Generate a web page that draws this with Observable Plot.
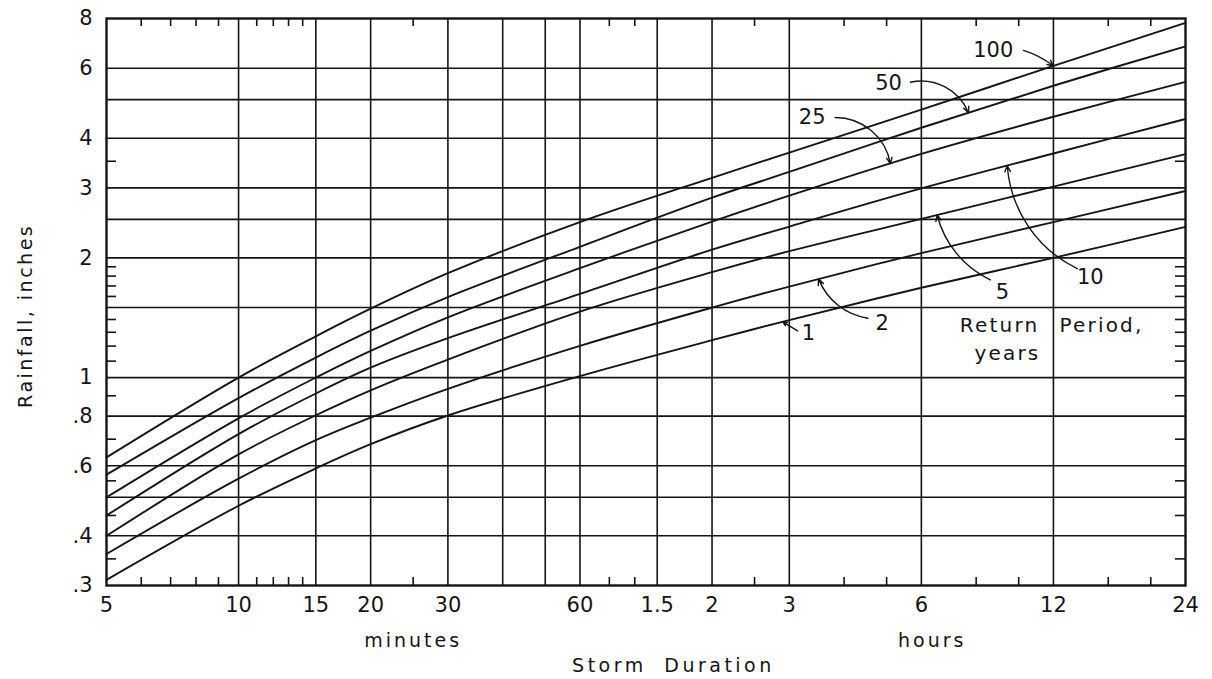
<!DOCTYPE html>
<html>
<head>
<meta charset="utf-8">
<script src="https://cdn.jsdelivr.net/npm/d3@7"></script>
<script src="https://cdn.jsdelivr.net/npm/@observablehq/plot@0.6"></script>
<style>
  html, body { margin: 0; padding: 0; background: #fff; }
  #chart svg { display: block; }
</style>
</head>
<body>
<div id="chart"></div>
<script>
// ---- Data: storm duration (minutes) and rainfall depth (inches) per return period ----
const durations = [5, 10, 15, 20, 30, 60, 120, 180, 360, 720, 1440];
const rain100 = [0.63, 1.00, 1.27, 1.49, 1.83, 2.46, 3.18, 3.68, 4.72, 6.08, 7.80];
const rain50  = [0.57, 0.888, 1.123, 1.312, 1.594, 2.133, 2.834, 3.29, 4.25, 5.42, 6.81];
const rain25  = [0.50, 0.79, 1.00, 1.167, 1.418, 1.884, 2.468, 2.868, 3.654, 4.53, 5.54];
const rain10  = [0.45, 0.721, 0.912, 1.059, 1.256, 1.623, 2.097, 2.397, 2.99, 3.66, 4.47];
const rain5   = [0.40, 0.641, 0.804, 0.929, 1.11, 1.465, 1.841, 2.079, 2.507, 3.023, 3.646];
const rain2   = [0.36, 0.557, 0.696, 0.793, 0.937, 1.202, 1.50, 1.694, 2.056, 2.461, 2.946];
const rain1   = [0.31, 0.476, 0.591, 0.68, 0.803, 1.009, 1.242, 1.395, 1.682, 2.00, 2.394];
const returnPeriods = [100, 50, 25, 10, 5, 2, 1];
const seriesValues = [rain100, rain50, rain25, rain10, rain5, rain2, rain1];

// ---- Axis ticks and grid ----
const xTickValues = [5, 10, 15, 20, 30, 60, 90, 120, 180, 360, 720, 1440];
const xTickLabels = ["5", "10", "15", "20", "30", "60", "1.5", "2", "3", "6", "12", "24"];
const xGridValues = [10, 15, 20, 30, 40, 50, 60, 90, 120, 180, 360, 720];
const xMinorValues = [6, 7, 8, 9, 11, 12, 13, 14, 25, 70, 80, 150, 240, 300, 480, 600, 960, 1200];
const yTickValues = [0.3, 0.4, 0.6, 0.8, 1, 2, 3, 4, 6, 8];
const yTickLabels = [".3", ".4", ".6", ".8", "1", "2", "3", "4", "6", "8"];
const yGridValues = [0.4, 0.5, 0.6, 0.8, 1, 1.5, 2, 2.5, 3, 4, 5, 6];
const yMinorValues = [0.35, 0.45, 0.55, 0.7, 0.9, 1.1, 1.2, 1.3, 1.4, 1.6, 1.7, 1.8, 1.9, 3.5];

// ---- Curve labels (data-space anchors) ----
const curveLabelText = ["100", "50", "25", "10", "5", "2", "1"];
const curveLabelX = [525, 303, 203, 874, 551, 293, 199];
const curveLabelY = [6.65, 5.5, 4.51, 1.79, 1.64, 1.37, 1.29];
const leaderStartX = [615, 340, 229, 816, 517, 272, 188];
const leaderStartY = [6.65, 5.53, 4.51, 1.88, 1.76, 1.41, 1.31];
const leaderTipX = [720, 461, 306, 565, 391, 210, 174];

// ---- Text labels ----
const xUnitText = ["minutes", "hours"];
const xUnitAt = [25, 381];
const xTitleText = "Storm Duration";
const xTitleAt = 98;
const yTitleText = "Rainfall, inches";
const yTitleAt = 1.43;
const legendWords = ["Return", "Period,", "years"];
const legendAt = 720;
const legendY = [1.35, 1.35, 1.15];

// ---- Build tables ----
const rows = returnPeriods.flatMap((rp, i) =>
  durations.map((d, j) => ({rp, duration: d, rain: seriesValues[i][j]})));

function rainAt(values, m) {
  for (let i = 0; i < durations.length - 1; i++) {
    if (m >= durations[i] && m <= durations[i + 1]) {
      const t = Math.log(m / durations[i]) / Math.log(durations[i + 1] / durations[i]);
      return Math.exp(Math.log(values[i]) + t * (Math.log(values[i + 1]) - Math.log(values[i])));
    }
  }
  return values[values.length - 1];
}

const leaders = returnPeriods.map((rp, i) => ({
  label: curveLabelText[i],
  lx: curveLabelX[i], ly: curveLabelY[i],
  x1: leaderStartX[i], y1: leaderStartY[i],
  x2: leaderTipX[i], y2: rainAt(seriesValues[i], leaderTipX[i])
}));

const bendStyle = {"100": 10, "50": 40, "25": 40, "10": 30, "5": 25, "2": 30, "1": 0};
const xIdx = xTickValues.map((_, i) => i);
const yIdx = yTickValues.map((_, i) => i);

const W = 1212, H = 679, mL = 106, mR = 27, mT = 18, mB = 94;
const frameW = W - mL - mR, frameH = H - mT - mB;
const ink = "#151515";
const font = "DejaVu Sans";

const chart = Plot.plot({
  width: W, height: H,
  marginLeft: mL, marginRight: mR, marginTop: mT, marginBottom: mB,
  x: {type: "log", domain: [5, 1440], axis: null},
  y: {type: "log", domain: [0.3, 8], axis: null},
  style: {fontFamily: font, fontSize: "20px", background: "#fff", color: ink},
  marks: [
    Plot.ruleX(xGridValues, {stroke: ink, strokeWidth: 1.6}),
    Plot.ruleY(yGridValues, {stroke: ink, strokeWidth: 1.6}),
    Plot.ruleX(xMinorValues, {stroke: ink, strokeWidth: 1.6, insetTop: frameH - 8}),
    Plot.ruleX(xMinorValues, {stroke: ink, strokeWidth: 1.6, insetBottom: frameH - 8}),
    Plot.ruleY(yMinorValues, {stroke: ink, strokeWidth: 1.6, insetRight: frameW - 10}),
    Plot.ruleY(yMinorValues, {stroke: ink, strokeWidth: 1.6, insetLeft: frameW - 10}),
    Plot.line(rows, {x: "duration", y: "rain", z: "rp", stroke: ink, strokeWidth: 1.9, curve: "catmull-rom"}),
    Plot.frame({stroke: ink, strokeWidth: 2.4}),
    ...leaders.map(d => Plot.arrow([d], {
      x1: "x1", y1: "y1", x2: "x2", y2: "y2",
      bend: bendStyle[d.label], stroke: ink, strokeWidth: 1.4,
      headLength: d.label === "1" ? 5 : 7, headAngle: 50
    })),
    Plot.text(leaders, {x: "lx", y: "ly", text: "label", fill: ink, fontSize: 21}),
    Plot.text([legendWords[0]], {x: () => legendAt, y: () => legendY[0], text: d => d, textAnchor: "end", dx: -14, fill: ink, fontSize: 20}),
    Plot.text([legendWords[1]], {x: () => legendAt, y: () => legendY[1], text: d => d, textAnchor: "start", dx: 6, fill: ink, fontSize: 20}),
    Plot.text([legendWords[2]], {x: () => legendAt, y: () => legendY[2], text: d => d, textAnchor: "end", dx: -13, fill: ink, fontSize: 20}),
    // tick labels
    Plot.text(xIdx, {x: i => xTickValues[i], text: i => xTickLabels[i], frameAnchor: "bottom", lineAnchor: "middle", textAnchor: "middle", dy: 20, fill: ink, fontSize: 21}),
    Plot.text(yIdx, {y: i => yTickValues[i], text: i => yTickLabels[i], frameAnchor: "left", lineAnchor: "middle", textAnchor: "end", dx: -14, fill: ink, fontSize: 21}),
    // axis titles
    Plot.text(xUnitText, {x: (d, i) => xUnitAt[i], frameAnchor: "bottom", lineAnchor: "middle", textAnchor: "middle", dy: 55, text: d => d, fill: ink, fontSize: 19}),
    Plot.text([xTitleText], {x: () => xTitleAt, frameAnchor: "bottom", lineAnchor: "middle", textAnchor: "middle", dy: 80, text: d => d, fill: ink, fontSize: 19}),
    Plot.text([yTitleText], {y: () => yTitleAt, frameAnchor: "left", lineAnchor: "middle", textAnchor: "middle", dx: -81, rotate: -90, text: d => d, fill: ink, fontSize: 19})
  ]
});

// letter spacing to mimic the wide drafting lettering
const spacing = new Map([
  ["minutes", 3], ["hours", 3], ["Storm Duration", 3.5], ["Rainfall, inches", 2.5],
  ["Return", 2.2], ["Period,", 2.2], ["years", 2.2]
]);
chart.querySelectorAll("text").forEach(t => {
  const s = spacing.get(t.textContent);
  if (s != null) t.setAttribute("letter-spacing", s);
  if (t.textContent === "Storm Duration") t.setAttribute("word-spacing", 8);
});

document.getElementById("chart").append(chart);
</script>
</body>
</html>
